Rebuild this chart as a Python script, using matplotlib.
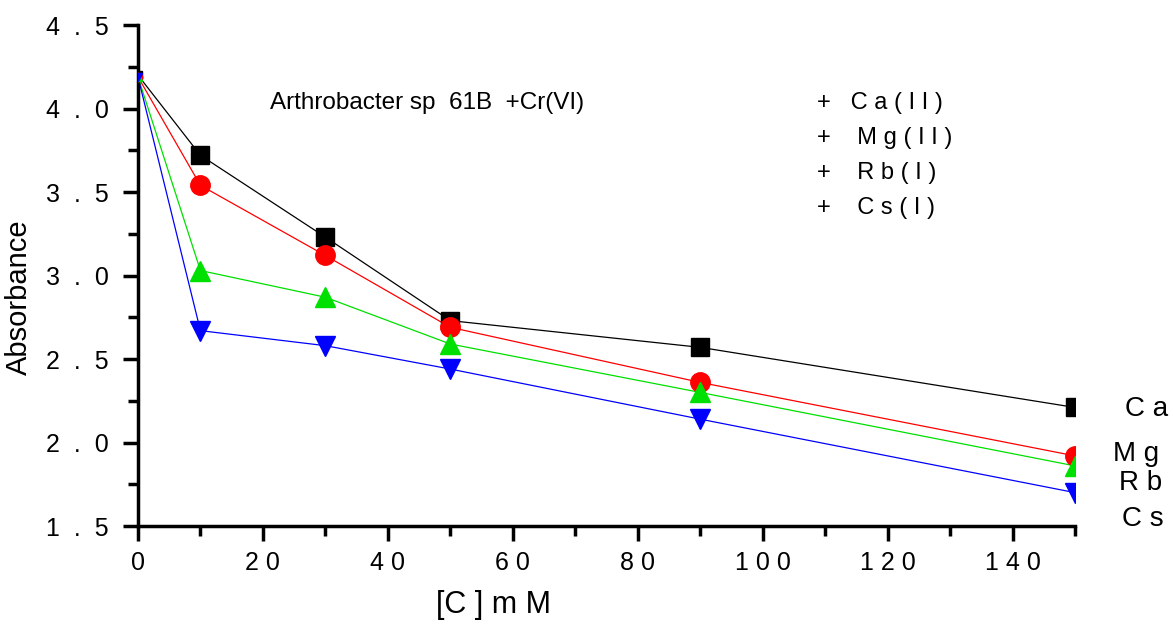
import numpy as np
import matplotlib.pyplot as plt
from matplotlib.ticker import MultipleLocator, FuncFormatter

plt.rcParams['font.family'] = ['Liberation Sans', 'DejaVu Sans']

conc = [0, 10, 30, 50, 90, 150]
ca = [4.20, 3.72, 3.23, 2.73, 2.57, 2.21]
mg = [4.19, 3.54, 3.12, 2.69, 2.36, 1.92]
rb = [4.19, 3.03, 2.87, 2.59, 2.30, 1.86]
cs = [4.19, 2.67, 2.58, 2.44, 2.14, 1.70]

series = [
    (ca, "black", "s", 13, "C a"),
    (mg, "red", "o", 14, "M g"),
    (rb, "#00e000", "^", 15, "R b"),
    (cs, "blue", "v", 15, "C s"),
]
end_labels_y = [2.20, 1.93, 1.76, 1.54]
end_labels_x = [1.053, 1.041, 1.047, 1.050]
legend_lines = ["+   C a ( I I )", "+    M g ( I I )", "+    R b ( I )", "+    C s ( I )"]

fig = plt.figure(figsize=(11.73, 6.26), dpi=100)
ax = fig.add_axes([0.1176, 0.1597, 0.7989, 0.8003])

for vals, col, mk, ms, lab in series:
    ax.plot(conc, vals, color=col, lw=0.9, zorder=2)
    ax.plot(conc[1:], vals[1:], ls="none", marker=mk, ms=ms, color=col,
            markeredgecolor=col, zorder=3)
    ax.plot(conc[:1], vals[:1], ls="none", marker=mk, ms=6, color=col, zorder=3)

ax.set_xlim(0, 150)
ax.set_ylim(1.5, 4.5)
ax.spines["top"].set_visible(False)
ax.spines["right"].set_visible(False)
for s in ["left", "bottom"]:
    ax.spines[s].set_linewidth(2.5)

ax.xaxis.set_major_locator(MultipleLocator(20))
ax.xaxis.set_minor_locator(MultipleLocator(10))
ax.yaxis.set_major_locator(MultipleLocator(0.5))
ax.yaxis.set_minor_locator(MultipleLocator(0.25))
ax.tick_params(which="major", direction="out", length=11, width=2.5, labelsize=18)
ax.tick_params(which="minor", direction="out", length=7, width=2.5)
ax.tick_params(axis="x", pad=7)
ax.tick_params(axis="y", pad=10)

ax.xaxis.set_major_formatter(FuncFormatter(lambda v, p: " ".join("%d" % v)))
ax.yaxis.set_major_formatter(FuncFormatter(lambda v, p: "  ".join("%.1f" % v)))

ax.set_xlabel("[C ] m M", fontsize=22)
ax.xaxis.set_label_coords(0.379, -0.128)
ax.set_ylabel("Absorbance", fontsize=21)
ax.yaxis.set_label_coords(-0.112, 0.457)

ax.text(0.141, 0.844, "Arthrobacter sp  61B  +Cr(VI)",
        transform=ax.transAxes, fontsize=17.5, va="center", ha="left")
for i, t in enumerate(legend_lines):
    ax.text(0.725, 0.844 - i * 0.0699, t, transform=ax.transAxes,
            fontsize=17, va="center", ha="left")

for (vals, col, mk, ms, lab), yl, xl in zip(series, end_labels_y, end_labels_x):
    ax.text(xl, yl, lab, transform=ax.get_yaxis_transform(), fontsize=20,
            va="center", ha="left", clip_on=False)

fig.savefig("out.png", dpi=100)
